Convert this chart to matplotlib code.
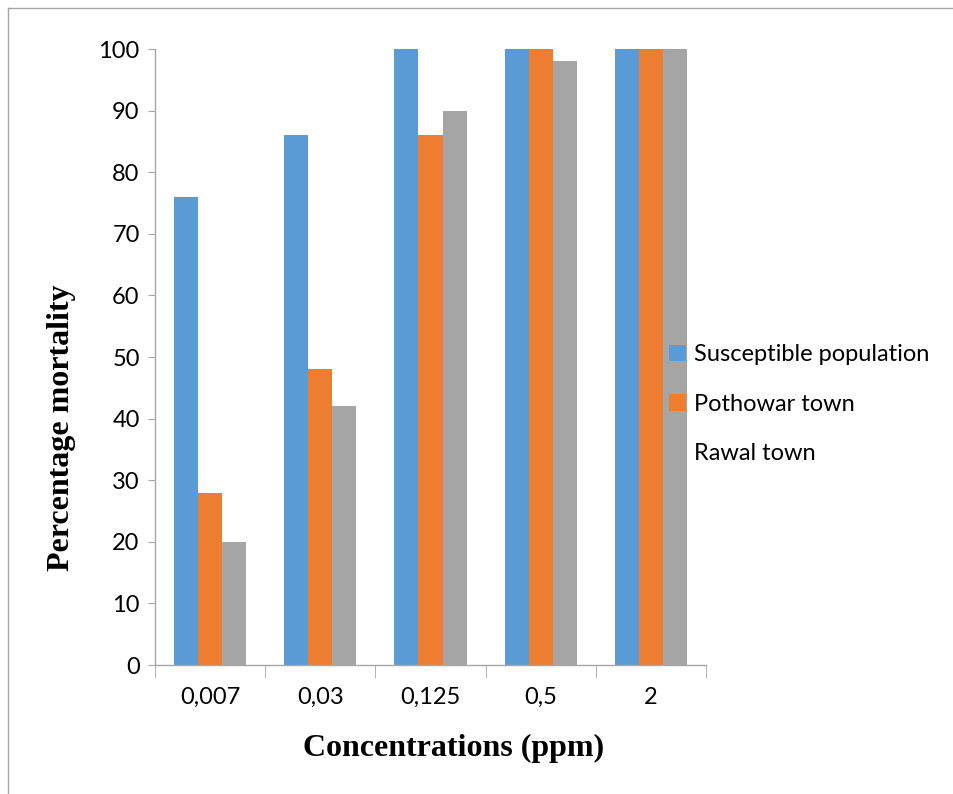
import matplotlib
matplotlib.use("Agg")
import matplotlib.pyplot as plt
import numpy as np
from matplotlib.lines import Line2D
from matplotlib.ticker import FixedLocator, NullFormatter

categories = ["0,007", "0,03", "0,125", "0,5", "2"]
series_names = ["Susceptible population", "Pothowar town", "Rawal town"]
susceptible = [76, 86, 100, 100, 100]
pothowar = [28, 48, 86, 100, 100]
rawal = [20, 42, 90, 98, 100]
colors = ["#5B9BD5", "#ED7D31", "#A5A5A5"]

fig = plt.figure(figsize=(9.54, 7.94), dpi=100)
ax = fig.add_axes([155/954, 1-665/794, (706-155)/954, (665-49)/794])

x = np.arange(len(categories))
w = 0.218
for i, (vals, name, c) in enumerate(zip([susceptible, pothowar, rawal], series_names, colors)):
    ax.bar(x + (i-1)*w, vals, width=w, color=c, label=name, zorder=2)

tickfont = "Lato"
ax.set_xlim(-0.5, len(categories)-0.5)
ax.set_ylim(0, 100)
ax.set_yticks(np.arange(0, 101, 10))
for lab in ax.get_yticklabels():
    lab.set_fontfamily(tickfont)
ax.tick_params(axis="y", length=5, color="#A6A6A6", labelsize=17, pad=6)
ax.set_xticks(x)
ax.set_xticklabels(categories, fontfamily=tickfont, fontsize=17)
ax.tick_params(axis="x", which="major", length=0, pad=16)
ax.xaxis.set_minor_locator(FixedLocator(np.arange(-0.5, len(categories), 1.0)))
ax.xaxis.set_minor_formatter(NullFormatter())
ax.tick_params(axis="x", which="minor", length=9, color="#A6A6A6")

for s in ["top", "right"]:
    ax.spines[s].set_visible(False)
for s in ["left", "bottom"]:
    ax.spines[s].set_color("#A6A6A6")
    ax.spines[s].set_linewidth(1.0)

ax.set_xlabel("Concentrations (ppm)", fontfamily="Liberation Serif", fontweight="bold", fontsize=23)
ax.xaxis.label.set_va("center")
ax.xaxis.set_label_coords(0.541, -0.135)
ax.set_ylabel("Percentage mortality", fontfamily="Liberation Serif", fontweight="bold", fontsize=23)
ax.yaxis.label.set_va("center")
ax.yaxis.set_label_coords(-0.17, 0.385)

leg = ax.legend(loc="center left", bbox_to_anchor=(660/954, 1-404/794), bbox_transform=fig.transFigure,
                frameon=False, prop={"family": tickfont, "size": 17}, handlelength=0.7, handleheight=0.7,
                handletextpad=0.35, labelspacing=1.2, borderaxespad=0)

# figure border
fig.add_artist(Line2D([8/954, 8/954], [0, 1-8/794], transform=fig.transFigure, color="#A6A6A6", lw=1))
fig.add_artist(Line2D([8/954, 1], [1-8/794, 1-8/794], transform=fig.transFigure, color="#A6A6A6", lw=1))

fig.savefig("out.png", dpi=100)
